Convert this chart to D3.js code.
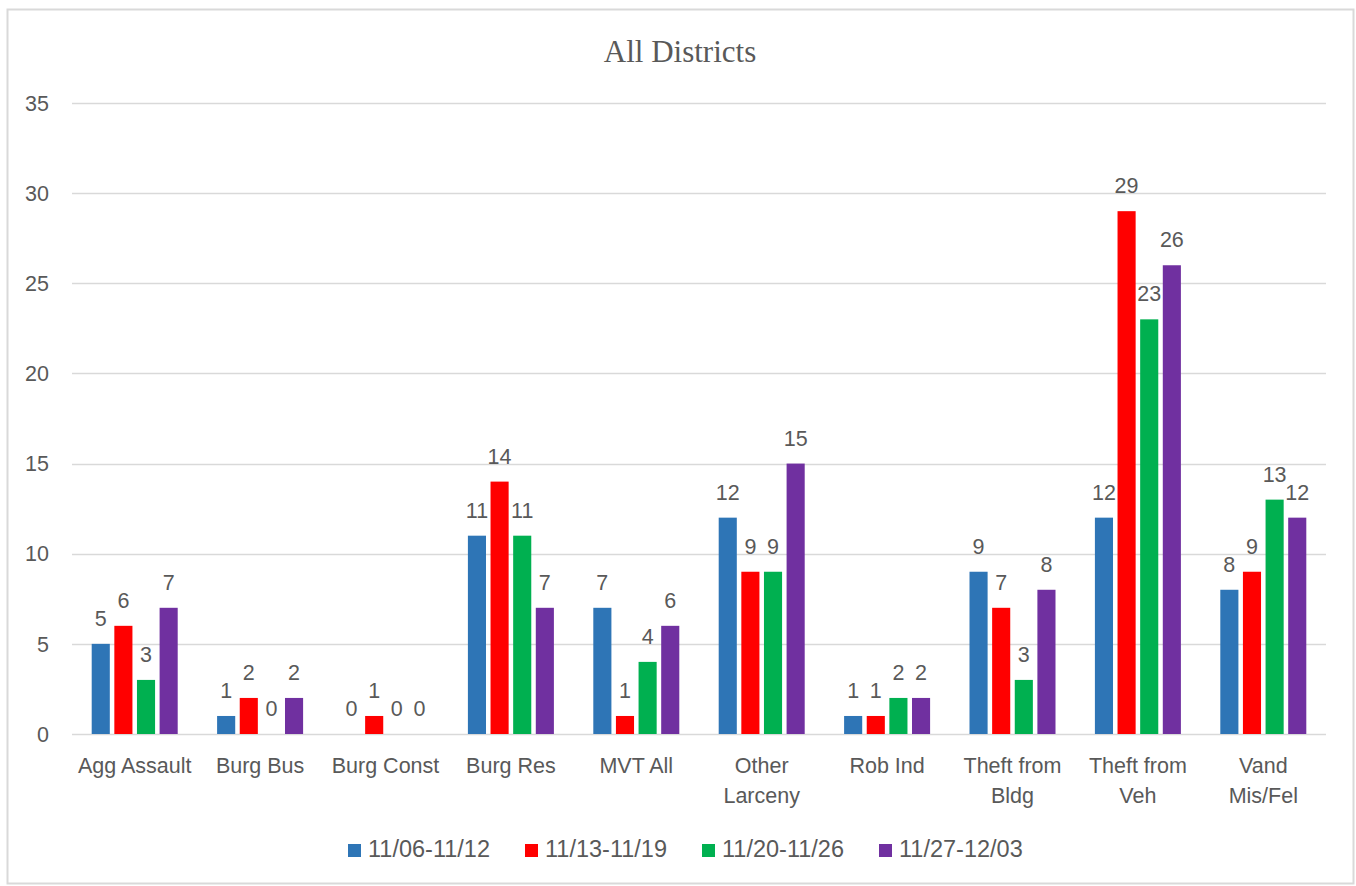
<!DOCTYPE html>
<html>
<head>
<meta charset="utf-8">
<script src="https://cdn.jsdelivr.net/npm/d3@7"></script>
<style>
  body { margin: 0; background: #fff; }
  svg text { font-family: "Liberation Sans", Arial, sans-serif; fill: #595959; }
</style>
</head>
<body>
<svg id="chart" width="1356" height="886"></svg>
<script>
// chart data
const categories = [
  ["Agg Assault"], ["Burg Bus"], ["Burg Const"], ["Burg Res"], ["MVT All"],
  ["Other", "Larceny"], ["Rob Ind"], ["Theft from", "Bldg"], ["Theft from", "Veh"], ["Vand", "Mis/Fel"]
];
const seriesNames = ["11/06-11/12", "11/13-11/19", "11/20-11/26", "11/27-12/03"];
const week1 = [5, 1, 0, 11, 7, 12, 1, 9, 12, 8];
const week2 = [6, 2, 1, 14, 1, 9, 1, 7, 29, 9];
const week3 = [3, 0, 0, 11, 4, 9, 2, 3, 23, 13];
const week4 = [7, 2, 0, 7, 6, 15, 2, 8, 26, 12];
const yTicks = [0, 5, 10, 15, 20, 25, 30, 35];

const colors = ["#2E75B6", "#FF0000", "#00B050", "#7030A0"];
const allSeries = [week1, week2, week3, week4];

const svg = d3.select("#chart");

// outer chart border
svg.append("rect")
    .attr("x", 7.5).attr("y", 9.5)
    .attr("width", 1346).attr("height", 874)
    .attr("fill", "#fff")
    .attr("stroke", "#d9d9d9")
    .attr("stroke-width", 2);

const plot = { left: 72, right: 1326, top: 103, bottom: 734 };

const x = d3.scaleBand()
    .domain(d3.range(categories.length))
    .range([plot.left, plot.right])
    .paddingInner(0).paddingOuter(0);

const groupW = 86;
const xInner = d3.scaleBand()
    .domain(d3.range(seriesNames.length))
    .range([0, groupW])
    .paddingInner(0.2);

const y = d3.scaleLinear()
    .domain([0, 35])
    .range([plot.bottom, plot.top]);

// gridlines
svg.append("g")
    .selectAll("line")
    .data(yTicks)
    .join("line")
    .attr("x1", plot.left).attr("x2", plot.right)
    .attr("y1", d => Math.round(y(d)) + 0.5)
    .attr("y2", d => Math.round(y(d)) + 0.5)
    .attr("stroke", "#d9d9d9")
    .attr("stroke-width", 1.5);

// y tick labels
svg.append("g")
    .selectAll("text")
    .data(yTicks)
    .join("text")
    .attr("x", 49)
    .attr("y", d => y(d))
    .attr("dy", "0.36em")
    .attr("text-anchor", "end")
    .style("font-size", "21.5px")
    .text(d => d);

// bars + value labels
const groupOffset = (x.bandwidth() - groupW) / 2;
allSeries.forEach((vals, si) => {
    const g = svg.append("g");
    g.selectAll("rect")
        .data(vals)
        .join("rect")
        .attr("x", (d, i) => x(i) + groupOffset + xInner(si))
        .attr("y", d => y(d))
        .attr("width", xInner.bandwidth())
        .attr("height", d => y(0) - y(d))
        .attr("fill", colors[si]);

    g.selectAll("text")
        .data(vals)
        .join("text")
        .attr("x", (d, i) => x(i) + groupOffset + xInner(si) + xInner.bandwidth() / 2)
        .attr("y", d => y(d) - 18)
        .attr("text-anchor", "middle")
        .style("font-size", "21.5px")
        .text(d => d);
});

// category labels
const catG = svg.append("g");
categories.forEach((lines, i) => {
    const cx = x(i) + x.bandwidth() / 2;
    const t = catG.append("text")
        .attr("x", cx)
        .attr("y", 773)
        .attr("text-anchor", "middle")
        .style("font-size", "21.5px");
    lines.forEach((ln, j) => {
        t.append("tspan")
            .attr("x", cx)
            .attr("dy", j === 0 ? 0 : 30)
            .text(ln);
    });
});

// title
svg.append("text")
    .attr("x", 680)
    .attr("y", 62)
    .attr("text-anchor", "middle")
    .style("font-family", "'Liberation Serif', 'DejaVu Serif', serif")
    .style("font-size", "31px")
    .text("All Districts");

// legend
const legend = svg.append("g");
const legendX = d3.scalePoint().domain(d3.range(seriesNames.length)).range([348, 879]);
seriesNames.forEach((name, i) => {
    legend.append("rect")
        .attr("x", legendX(i))
        .attr("y", 844)
        .attr("width", 13)
        .attr("height", 13)
        .attr("fill", colors[i]);
    legend.append("text")
        .attr("x", legendX(i) + 20)
        .attr("y", 857)
        .style("font-size", "23.5px")
        .text(name);
});
</script>
</body>
</html>
